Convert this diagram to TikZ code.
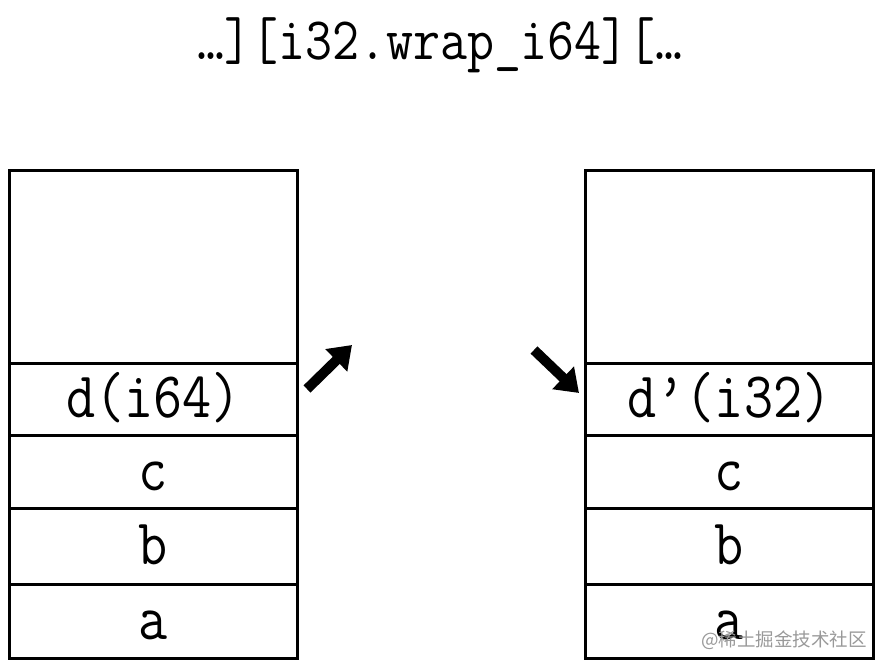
\documentclass[tikz,border=0pt]{standalone}
\usepackage{fontspec}
\usepackage{graphicx}
\usetikzlibrary{arrows.meta}
\newfontfamily\cjkfont{Noto Sans CJK SC}
\newcommand\mytall[1]{\scalebox{1}[1.15]{#1}}
\begin{document}
\begin{tikzpicture}[x=1pt,y=-1pt,
  cell/.style={draw, line width=3pt, minimum width=288pt, inner sep=0pt, anchor=north west,
    text height=40pt, text depth=4pt, font=\ttfamily\fontsize{56.5}{57}\selectfont},
  bigarrow/.style={line width=10pt, -{Triangle[length=22pt,width=30pt]}}]
\useasboundingbox (0,0) rectangle (886,668);
\node[font=\ttfamily\fontsize{52.4}{53}\selectfont, anchor=base] (title) at (440,60) {\mytall{…][i32.wrap\_i64][…}};
% left stack
\node[cell, minimum height=193pt] (L0) at (8,169) {};
\node[cell, minimum height=72pt] (Ld) at (8,362) {\mytall{d(i64)}};
\node[cell, minimum height=73pt] (Lc) at (8,434) {\mytall{c}};
\node[cell, minimum height=76pt] (Lb) at (8,507) {\mytall{b}};
\node[cell, minimum height=74pt] (La) at (8,583) {\mytall{a}};
% right stack
\node[cell, minimum height=193pt] (R0) at (584,169) {};
\node[cell, minimum height=72pt] (Rd) at (584,362) {\mytall{d’(i32)}};
\node[cell, minimum height=73pt] (Rc) at (584,434) {\mytall{c}};
\node[cell, minimum height=76pt] (Rb) at (584,507) {\mytall{b}};
\node[cell, minimum height=74pt] (Ra) at (584,583) {\mytall{a}};
% arrows
\coordinate (a1s) at (307,389);
\coordinate (a1e) at (352,345);
\coordinate (a2s) at (534,350);
\coordinate (a2e) at (579,393);
\draw[bigarrow] (a1s) -- (a1e);
\draw[bigarrow] (a2s) -- (a2e);
% watermark
\node[font=\cjkfont\fontsize{18.5}{18.5}\selectfont, text=black!40, anchor=east, inner sep=0pt] (wm) at (867,640) {@稀土掘金技术社区};
\end{tikzpicture}
\end{document}
